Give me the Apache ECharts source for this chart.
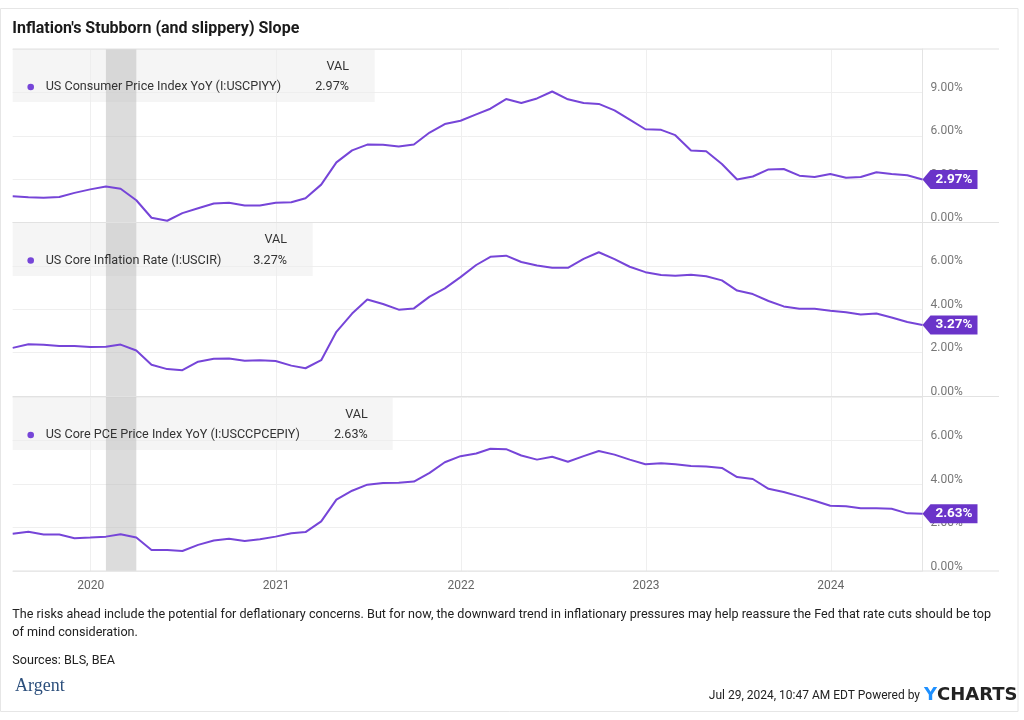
<!DOCTYPE html>
<html><head><meta charset="utf-8">
<script src="https://cdn.jsdelivr.net/npm/echarts@6/dist/echarts.min.js"></script>
<style>
html,body{margin:0;padding:0;background:#fff;overflow:hidden;width:1024px;height:720px}
#c{width:1024px;height:720px}
</style></head><body><div id="c"></div>
<script>
// ---- data (monthly, Jul 2019 .. Jun 2024, month-end dates) ----
const startYear = 2019, startMonth = 7, monthCount = 60;
const cpiYoY = [1.81,1.75,1.71,1.76,2.05,2.29,
  2.49,2.33,1.54,0.33,0.12,0.65,0.99,1.31,1.37,1.18,1.17,1.36,
  1.40,1.68,2.62,4.16,4.99,5.39,5.37,5.25,5.39,6.22,6.81,7.04,
  7.48,7.87,8.54,8.26,8.58,9.06,8.52,8.26,8.20,7.75,7.11,6.45,
  6.41,6.04,4.98,4.93,4.05,2.97,3.18,3.67,3.70,3.24,3.14,3.35,
  3.09,3.15,3.48,3.36,3.27,2.97];
const coreCpi = [2.22,2.39,2.36,2.30,2.30,2.26,
  2.27,2.37,2.10,1.44,1.24,1.19,1.58,1.72,1.73,1.63,1.65,1.61,
  1.40,1.28,1.65,2.96,3.80,4.45,4.24,3.98,4.04,4.58,4.96,5.48,
  6.04,6.42,6.47,6.18,6.02,5.91,5.91,6.32,6.63,6.31,5.96,5.71,
  5.58,5.54,5.59,5.52,5.33,4.86,4.70,4.38,4.13,4.02,4.02,3.93,
  3.86,3.76,3.80,3.62,3.41,3.27];
const corePce = [1.71,1.80,1.68,1.68,1.51,1.54,
  1.58,1.69,1.54,0.97,0.97,0.92,1.20,1.40,1.48,1.38,1.46,1.58,
  1.74,1.79,2.28,3.28,3.69,3.97,4.05,4.06,4.11,4.51,5.00,5.28,
  5.40,5.62,5.60,5.31,5.12,5.25,5.02,5.28,5.52,5.35,5.12,4.91,
  4.95,4.91,4.83,4.81,4.74,4.32,4.23,3.78,3.63,3.43,3.23,3.00,
  2.98,2.88,2.88,2.86,2.65,2.63];
const seriesNames = ['US Consumer Price Index YoY (I:USCPIYY)','US Core Inflation Rate (I:USCIR)','US Core PCE Price Index YoY (I:USCCPCEPIY)'];
const yMax = [12, 8, 8];
const yStep = [3, 2, 2];
const yearTicks = ['2020-01-01','2021-01-01','2022-01-01','2023-01-01','2024-01-01'];
const recession = ['2020-01-31','2020-03-31'];
const titleText = "Inflation's Stubborn (and slippery) Slope";
const noteLines = ['The risks ahead include the potential for deflationary concerns. But for now, the downward trend in inflationary pressures may help reassure the Fed that rate cuts should be top','of mind consideration.'];
const sourceText = 'Sources: BLS, BEA';
const stampText = 'Jul 29, 2024, 10:47 AM EDT Powered by';

// ---- build ----
function parseD(s){const p=s.split('-').map(Number);return new Date(p[0],p[1]-1,p[2]).getTime();}
const dates = [];
for (let i=0;i<monthCount;i++){ dates.push(new Date(startYear, startMonth + i, 0).getTime()); }
const values = [cpiYoY, coreCpi, corePce];
const tickVals = yearTicks.map(parseD);
const recVals = recession.map(parseD);

const PURPLE = '#7645d8', TAG = '#6a34c9';
const FONT = 'Roboto, "Noto Sans", sans-serif';
const panels = [ {top:49, h:173.5}, {top:222.5, h:173.5}, {top:397, h:174} ];
const gridLeft = 12.7, gridRightX = 922.5;
const legendBox = [ {w:362, h:53, valX:349}, {w:300, h:53.5, valX:287}, {w:380, h:53, valX:367.7} ];

const grids = panels.map(p=>({left:gridLeft, right:1024-gridRightX, top:p.top, height:p.h, containLabel:false}));
const xAxes = panels.map((p,i)=>({
  type:'value', gridIndex:i, min:dates[0], max:dates[dates.length-1], scale:true,
  axisLine:{show:false}, axisTick:{show:false, customValues:tickVals},
  axisLabel:{show:i===2, customValues:tickVals, formatter:v=>String(new Date(v).getFullYear()),
    color:'#666', fontSize:12, fontFamily:FONT, margin:9},
  splitLine:{show:true, lineStyle:{color:'#efefef', width:1}}
}));
const yAxes = panels.map((p,i)=>({
  type:'value', gridIndex:i, position:'right', min:0, max:yMax[i], interval:yStep[i],
  axisLine:{show:true, lineStyle:{color:'#e4e4e4'}}, axisTick:{show:false},
  splitLine:{show:true, lineStyle:{color:'#efefef'}},
  axisLabel:{showMaxLabel:false, formatter:v=>v.toFixed(2)+'%', color:'#777', fontSize:12, fontFamily:FONT,
    margin:8, verticalAlign:'bottom', lineHeight:9}
}));
const series = values.map((vals,i)=>({
  type:'line', xAxisIndex:i, yAxisIndex:i, name:seriesNames[i], showSymbol:false, symbol:'none',
  data: dates.map((d,j)=>[d, vals[j]]), z:3,
  lineStyle:{color:PURPLE, width:2}, itemStyle:{color:PURPLE},
  markArea:{silent:true, itemStyle:{color:'rgba(185,185,185,0.5)'}, data:[[{xAxis:recVals[0]},{xAxis:recVals[1]}]]},
  markPoint:{silent:true, symbol:'path://M0,9.5L8,0L55,0L55,19L8,19Z', symbolSize:[55,19], symbolOffset:[27.5,0],
    symbolKeepAspect:false, itemStyle:{color:TAG},
    label:{show:true, position:'inside', offset:[4,0], color:'#fff', fontWeight:'bold', fontSize:13.5, fontFamily:FONT,
      formatter:pp=>Number(pp.value).toFixed(2)+'%'},
    data:[{coord:[dates[dates.length-1], vals[vals.length-1]], value:vals[vals.length-1]}]}
}));

const LF = '12.6px ' + FONT;
const g = [];
g.push({type:'rect', shape:{x:0.5, y:8.5, width:1017.5, height:703}, style:{fill:'none', stroke:'#e6e6e6', lineWidth:1}, z:0});
g.push({type:'text', style:{x:12.3, y:29, text:titleText, font:'bold 16px '+FONT, fill:'#1a1a1a', align:'left', verticalAlign:'middle'}, z:10});
panels.forEach((p,i)=>{
  const b = legendBox[i];
  g.push({type:'rect', shape:{x:gridLeft, y:p.top, width:b.w, height:b.h}, style:{fill:'rgba(236,236,236,0.55)'}, z:1});
  g.push({type:'text', style:{x:b.valX, y:p.top+17.5, text:'VAL', font:LF, fill:'#333', align:'right', verticalAlign:'middle'}, z:10});
  g.push({type:'circle', shape:{cx:30.7, cy:p.top+38, r:3.3}, style:{fill:PURPLE}, z:10});
  g.push({type:'text', style:{x:45.7, y:p.top+38, text:seriesNames[i], font:LF, fill:'#333', align:'left', verticalAlign:'middle'}, z:10});
  const v = values[i][values[i].length-1];
  g.push({type:'text', style:{x:b.valX, y:p.top+38, text:v.toFixed(2)+'%', font:LF, fill:'#333', align:'right', verticalAlign:'middle'}, z:10});
});
[49, 222.5, 396.5, 571].forEach(y=>{
  g.push({type:'line', shape:{x1:gridLeft, y1:y, x2:999, y2:y}, style:{stroke:'#e2e2e2', lineWidth:1.2}, z:2});
});
g.push({type:'text', style:{x:12.3, y:615, text:noteLines[0], font:LF, fill:'#222', align:'left', verticalAlign:'middle'}, z:10});
g.push({type:'text', style:{x:12.3, y:633, text:noteLines[1], font:LF, fill:'#222', align:'left', verticalAlign:'middle'}, z:10});
g.push({type:'text', style:{x:12.3, y:661, text:sourceText, font:LF, fill:'#222', align:'left', verticalAlign:'middle'}, z:10});
g.push({type:'text', style:{x:15, y:686, text:'Argent', font:'18px "Liberation Serif", "DejaVu Serif", serif', fill:'#2c4f7c', align:'left', verticalAlign:'middle'}, z:10});
g.push({type:'text', style:{x:920, y:696, text:stampText, font:'12px '+FONT, fill:'#222', align:'right', verticalAlign:'middle'}, z:10});
g.push({type:'text', style:{x:924, y:695, text:'{y|Y}{c|CHARTS}', rich:{y:{fill:'#1e90ff', font:'bold 18px "DejaVu Sans", sans-serif'}, c:{fill:'#222', font:'bold 18px "DejaVu Sans", sans-serif'}}, align:'left', verticalAlign:'middle'}, z:10});

const chart = echarts.init(document.getElementById('c'), null, {renderer:'canvas', width:1024, height:720});
chart.setOption({
  backgroundColor:'#fff', animation:false,
  grid:grids, xAxis:xAxes, yAxis:yAxes, series:series, graphic:{elements:g}
});
</script></body></html>
